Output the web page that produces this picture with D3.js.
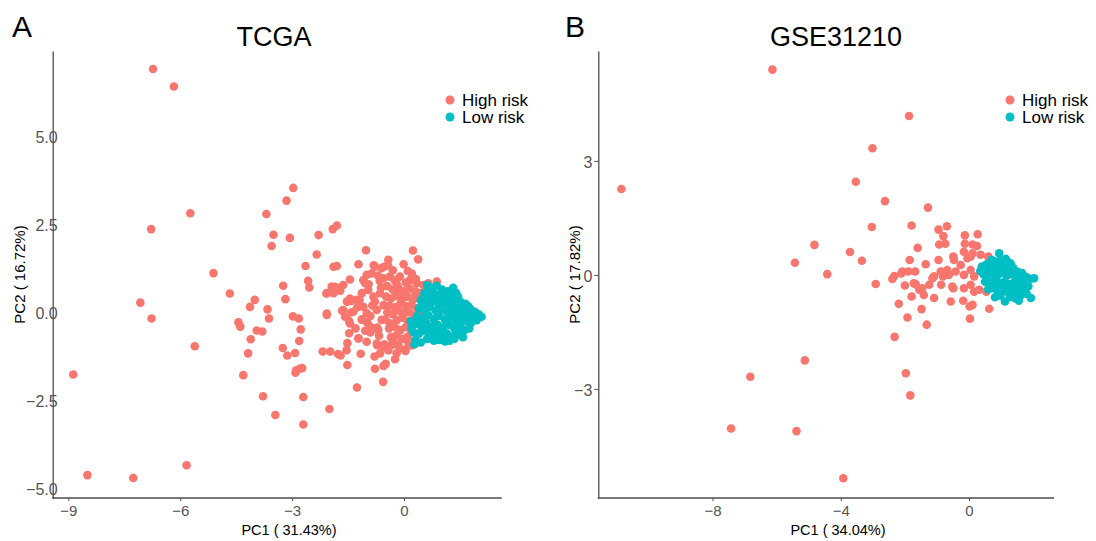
<!DOCTYPE html>
<html>
<head>
<meta charset="utf-8">
<script src="https://cdn.jsdelivr.net/npm/d3@7"></script>
<style>
  body { margin: 0; background: #fff; }
  svg text { font-family: "Liberation Sans", Arial, sans-serif; }
</style>
</head>
<body>
<svg id="chart" width="1096" height="541"></svg>
<script>
// ---------------- DATA ----------------
const groups = ["High risk", "Low risk"];
const groupColors = ["#F8766D", "#00BFC4"];

const panelLetters = ["A", "B"];
const panelTitles = ["TCGA", "GSE31210"];
const xAxisTitles = ["PC1 ( 31.43%)", "PC1 ( 34.04%)"];
const yAxisTitles = ["PC2 ( 16.72%)", "PC2 ( 17.82%)"];

const tcgaXTicks = [-9, -6, -3, 0];
const tcgaYTicks = [-5, -2.5, 0, 2.5, 5];
const gseXTicks = [-8, -4, 0];
const gseYTicks = [-3, 0, 3];

// TCGA, High risk (PC1, PC2)
const tcgaHigh = [
[-6.73,6.92],[-6.17,6.42],[-5.73,2.82],[-6.78,2.37],[-2.97,3.54],[-3.15,3.18],[-3.69,2.80],[-3.50,2.21],[-3.55,1.89],[-3.06,2.12],
[-2.29,2.20],[-1.91,2.37],[-1.80,2.47],[-2.34,1.65],[-1.02,1.77],[0.24,1.76],[0.38,1.51],[-0.42,1.50],[-1.22,1.37],[-0.81,1.34],
[-0.01,1.37],[-2.64,1.32],[-1.89,1.30],[-1.80,1.32],[-0.53,1.30],[-0.43,1.34],
[-5.11,1.12],[-4.67,0.54],[-7.07,0.28],[-6.77,-0.17],[-5.61,-0.96],[-8.87,-1.76],[-8.49,-4.62],[-7.26,-4.70],[-5.83,-4.34],
[-4.00,0.36],[-4.13,0.16],[-3.66,0.09],[-3.62,-0.17],[-4.44,-0.28],[-4.39,-0.40],[-3.95,-0.51],[-3.80,-0.54],[-4.11,-0.76],[-4.18,-1.16],
[-4.31,-1.78],[-3.78,-2.38],[-3.45,-2.91],[-2.70,-2.40],[-2.70,-3.18],[-2.00,-2.74],
[-3.24,0.76],[-3.18,0.38],[-2.98,-0.11],[-2.82,-0.17],[-2.77,-0.48],[-2.81,-0.81],[-3.25,-1.01],[-3.13,-1.22],[-2.92,-1.15],[-2.89,-1.64],
[-2.80,-1.60],[-2.73,-1.58],[-2.91,-1.71],
[-2.57,0.90],[-2.54,0.71],[-2.08,0.54],[-1.94,0.74],[-1.75,0.69],[-1.63,0.78],[-2.07,-0.03],[-2.18,-1.11],[-1.98,-1.11],[-1.77,-1.18],
[-1.70,-1.22],[-1.52,-1.49],[-1.26,-2.13],[-0.56,-1.97],[-0.78,-1.60],[-0.55,-1.52],[-0.49,-1.46],[-0.24,-1.33],[-1.16,-1.17],[-0.79,-1.25],
[-1.53,0.31],[-1.42,0.33],[-1.19,0.36],[-1.66,0.05],[-1.42,0.00],[-1.47,-0.24],[-1.47,-0.59],[-1.52,-0.87],[-1.22,-0.74],[-1.13,-0.19],
[-0.99,-0.28],[-1.04,-0.52],[-0.90,-0.57],[-0.72,-0.43],[-0.67,-0.66],[-0.72,-0.93],[-0.53,-0.90],[-0.39,-0.95],[-0.15,-0.93],[0.04,-1.09],[0.23,-0.93],
[-0.78,1.30],[-0.60,1.26],[0.21,1.11],[-1.00,1.07],[-0.87,1.11],[-1.45,0.94],[-1.85,0.73],[-1.09,0.92],[-1.04,0.83],[-0.55,0.97],
[-0.38,1.02],[-0.20,0.83],[-0.11,1.02],[0.16,0.92],[0.34,0.83],[0.52,0.78],[0.65,0.83],[0.88,0.88],
[-2.07,0.55],[-1.89,0.55],[-1.71,0.62],[-1.45,0.40],[-1.27,0.36],[-1.13,0.55],[-0.96,0.64],[-0.82,0.45],[-0.64,0.55],[-1.63,0.07],
[-1.58,-0.12],[-1.36,0.02],[-1.09,0.16],[-1.00,-0.02],[-0.78,0.31],[-0.73,0.07],[-0.55,0.21],[-2.07,-0.07],
[-1.45,-0.31],[-1.13,-0.21],[-0.91,-0.40],[-0.69,-0.50],[-0.60,-0.21],[-0.38,-0.31],[-1.22,-0.73],[-1.00,-0.83],[-0.73,-0.88],[-0.55,-0.97],
[-0.33,-0.92],[-0.11,-1.02],[0.07,-0.78],[-1.54,-1.07],[-0.64,-1.16],[-0.42,-1.07],[-0.20,-1.16],
[-0.45,0.75],[-0.30,0.65],[-0.15,0.70],[0.00,0.60],[0.15,0.68],[0.30,0.60],[0.45,0.55],[0.58,0.62],
[-0.48,0.45],[-0.35,0.40],[-0.20,0.48],[-0.05,0.38],[0.10,0.45],[0.25,0.38],[0.40,0.42],[0.55,0.35],
[-0.40,0.20],[-0.25,0.15],[-0.10,0.25],[0.05,0.18],[0.20,0.22],[0.35,0.12],[0.50,0.20],
[-0.45,0.00],[-0.30,-0.05],[-0.15,0.05],[0.00,-0.02],[0.15,0.00],[0.30,-0.08],[0.45,0.02],
[-0.50,-0.20],[-0.20,-0.22],[-0.05,-0.15],[0.10,-0.25],[0.25,-0.20],
[-0.40,-0.45],[-0.25,-0.40],[-0.10,-0.50],[0.05,-0.42],[0.20,-0.55],
[-0.35,-0.70],[-0.20,-0.65],[-0.05,-0.75],[0.10,-0.68],
[-0.85,0.20],[-0.90,-0.10],[-1.25,0.15],[-1.30,-0.45],[-0.95,0.80],[-0.65,0.90],[-0.25,0.92],[0.05,0.85],
[-0.30,1.20],[0.10,1.18],[-0.70,1.05],[-0.15,0.45],[0.32,0.95],[-0.62,0.70],[-0.28,-0.85],[0.12,-0.95]
];

// TCGA, Low risk
const tcgaLow = [
[0.62,0.78],[0.75,0.70],[0.88,0.76],[1.02,0.65],[1.18,0.60],[1.32,0.70],[1.40,0.55],[0.55,0.55],[0.70,0.50],[0.85,0.52],
[0.98,0.45],[1.12,0.42],[1.25,0.48],[1.38,0.38],[1.52,0.30],[1.65,0.25],[0.45,0.35],[0.60,0.30],[0.78,0.32],[0.92,0.25],
[1.05,0.28],[1.20,0.22],[1.33,0.18],[1.48,0.12],[1.62,0.08],[1.78,0.10],[1.90,0.02],[0.40,0.12],[0.55,0.08],[0.70,0.15],
[0.85,0.05],[1.00,0.10],[1.15,0.02],[1.28,0.05],[1.42,-0.02],[1.55,-0.05],[1.70,-0.08],[1.85,-0.12],[2.00,-0.05],[2.08,-0.12],
[0.35,-0.10],[0.50,-0.15],[0.65,-0.08],[0.80,-0.18],[0.95,-0.10],[1.10,-0.20],[1.25,-0.12],[1.38,-0.22],[1.52,-0.18],[1.65,-0.25],
[1.80,-0.30],[1.95,-0.22],[0.30,-0.32],[0.45,-0.38],[0.60,-0.30],[0.75,-0.40],[0.90,-0.35],[1.05,-0.42],[1.20,-0.35],[1.35,-0.45],
[1.50,-0.40],[1.62,-0.50],[1.75,-0.45],[0.25,-0.55],[0.40,-0.60],[0.55,-0.52],[0.70,-0.62],[0.85,-0.58],[1.00,-0.65],[1.15,-0.60],
[1.30,-0.68],[1.45,-0.62],[1.58,-0.70],[0.30,-0.78],[0.45,-0.85],[0.62,-0.75],[0.80,-0.80],[0.95,-0.78],[1.10,-0.82],[1.22,-0.80],
[0.28,-0.90],[1.35,-0.75],[0.20,-0.45],[0.18,-0.25],[0.72,0.65],[1.08,0.55],[1.45,0.45],[1.72,0.18],[0.50,0.20],[0.88,0.38],
[1.58,0.20],[1.82,-0.02],[0.42,-0.25],[1.00,-0.50],[1.40,-0.55],[0.66,-0.45],[0.52,0.42],[1.28,0.32]
];

// GSE31210, High risk
const gseHigh = [
[-6.13,5.40],[-1.87,4.18],[-3.01,3.33],[-10.84,2.26],[-3.53,2.45],[-2.62,1.94],[-1.28,1.77],[-3.03,1.26],[-1.79,1.30],[-0.95,1.19],
[-0.69,1.28],[-0.80,1.02],[-0.93,0.80],[-0.74,0.82],[-0.13,1.04],[0.27,1.07],[-0.13,0.82],[0.11,0.80],[0.25,0.76],[-4.82,0.79],
[-3.71,0.60],[-5.43,0.32],[-3.34,0.37],[-1.60,0.71],[-1.85,0.39],[-1.35,0.28],[-0.95,0.39],[-0.49,0.48],[-0.16,0.61],[-0.05,0.44],
[0.11,0.57],[0.36,0.53],[0.60,0.48],
[-4.42,0.02],[-2.91,-0.24],[-2.33,-0.03],[-2.11,0.04],[-1.89,0.09],[-1.68,0.09],[-2.00,-0.28],[-1.66,-0.25],[-1.79,-0.57],[-1.55,-0.39],
[-1.41,-0.53],[-2.19,-0.76],[-1.48,-0.90],[-1.92,-1.12],[-1.32,-1.31],[-2.32,-1.63],[-0.57,-0.70],[-0.18,-0.68],[0.02,-0.83],[0.03,-1.15],
[0.63,-0.89],
[-1.24,-0.26],[-1.14,-0.09],[-0.87,-0.26],[-0.81,-0.04],[-0.49,-0.35],[-0.16,-0.35],[0.05,-0.26],[0.16,-0.44],[0.32,-0.39],[0.54,-0.44],
[0.70,-0.31],
[-5.12,-2.25],[-6.82,-2.68],[-1.97,-2.59],[-1.83,-3.17],[-7.42,-4.04],[-5.38,-4.11],[-3.92,-5.35],
[-0.47,0.39],[-0.26,0.26],[0.63,0.39],[0.05,0.48],[-2.39,-0.11],[-2.08,0.09],[-1.09,-0.04],[-0.88,0.09],[-0.68,0.13],[-0.63,0.00],
[-0.42,0.09],[-0.16,0.00],[0.05,0.13],[0.16,-0.04],[0.37,0.09],[0.52,0.00],[-1.72,-0.22],[-1.46,-0.35],[-0.52,-0.31],[-1.09,-0.61],
[0.11,-0.79]
];

// GSE31210, Low risk
const gseLow = [
[0.94,0.57],[0.70,0.40],[0.85,0.35],[1.00,0.38],[1.15,0.42],[1.30,0.30],[0.55,0.28],[0.40,0.22],[0.62,0.15],[0.78,0.20],
[0.92,0.15],[1.08,0.22],[1.22,0.15],[1.38,0.18],[1.52,0.08],[1.65,0.05],[0.45,0.02],[0.58,-0.02],[0.72,0.05],[0.88,-0.02],
[1.02,0.05],[1.18,-0.02],[1.32,0.02],[1.48,-0.05],[1.62,-0.08],[1.78,-0.05],[1.92,-0.10],[2.03,-0.09],[0.50,-0.18],[0.65,-0.20],
[0.80,-0.15],[0.95,-0.22],[1.10,-0.18],[1.25,-0.25],[1.40,-0.20],[1.55,-0.28],[1.70,-0.22],[1.85,-0.30],[0.60,-0.38],[0.75,-0.35],
[0.90,-0.42],[1.05,-0.38],[1.20,-0.45],[1.35,-0.40],[1.50,-0.48],[1.65,-0.42],[1.80,-0.50],[1.93,-0.61],[0.81,-0.59],[0.98,-0.55],
[1.12,-0.70],[1.28,-0.58],[1.45,-0.62],[1.60,-0.55],[0.35,0.10],[1.75,-0.38],[1.55,-0.68],[0.92,0.28],[1.25,0.32],[1.42,0.00]
];

// ---------------- DRAW ----------------
const svg = d3.select("#chart");
const fontFam = '"Liberation Sans", Arial, sans-serif';

const panels = [
  { high: tcgaHigh, low: tcgaLow, xTicks: tcgaXTicks, yTicks: tcgaYTicks,
    xDom: [-9.42, 2.62], yDom: [-5.27, 7.43], left: 52.7, right: 501.7,
    yFmt: d3.format(".1f"), yTickSize: 0, yPad: -5,
    letterX: 12, titleX: 274, xTitleX: 289, yTitleX: 25, legendX: 450 },
  { high: gseHigh, low: gseLow, xTicks: gseXTicks, yTicks: gseYTicks,
    xDom: [-11.56, 2.65], yDom: [-5.87, 5.89], left: 598.3, right: 1054,
    yFmt: d3.format("d"), yTickSize: 4, yPad: 2,
    letterX: 565, titleX: 836, xTitleX: 838, yTitleX: 580, legendX: 1010 }
];
const plotTop = 51, plotBottom = 498;

panels.forEach((p, i) => {
  const x = d3.scaleLinear().domain(p.xDom).range([p.left, p.right]);
  const y = d3.scaleLinear().domain(p.yDom).range([plotBottom, plotTop]);
  const g = svg.append("g");

  // points
  const pts = [].concat(
    p.high.map(d => ({ x: d[0], y: d[1], g: 0 })),
    p.low.map(d => ({ x: d[0], y: d[1], g: 1 }))
  );
  g.append("g").selectAll("circle").data(pts).join("circle")
    .attr("cx", d => x(d.x)).attr("cy", d => y(d.y)).attr("r", 4.3)
    .attr("fill", d => groupColors[d.g]);

  // axes
  const xa = g.append("g").attr("transform", `translate(0,${plotBottom})`)
    .call(d3.axisBottom(x).tickValues(p.xTicks).tickSize(3).tickPadding(4).tickSizeOuter(0)
      .tickFormat(d3.format("d")));
  const ya = g.append("g").attr("transform", `translate(${p.left},0)`)
    .call(d3.axisLeft(y).tickValues(p.yTicks).tickSize(p.yTickSize).tickPadding(p.yPad).tickSizeOuter(0)
      .tickFormat(p.yFmt));
  [xa, ya].forEach(a => {
    a.select(".domain").attr("stroke", "#4d4d4d").attr("stroke-width", 1.3);
    a.selectAll(".tick line").attr("stroke", "#4d4d4d").attr("stroke-width", 1);
    a.selectAll(".tick text").attr("fill", "#555555").style("font-family", fontFam);
  });
  xa.selectAll(".tick text").style("font-size", "15px");
  ya.selectAll(".tick text").style("font-size", "16px").attr("dy", "0.4em");
  xa.select(".domain").attr("d", `M${p.left - 0.6},0H${p.right}`);

  // panel letter
  g.append("text").attr("x", p.letterX).attr("y", 37).text(panelLetters[i])
    .style("font-size", "30px").style("font-family", fontFam).attr("fill", "#000");
  // title
  g.append("text").attr("x", p.titleX).attr("y", 46).attr("text-anchor", "middle")
    .text(panelTitles[i]).style("font-size", "27px").style("font-family", fontFam).attr("fill", "#000");
  // axis titles
  g.append("text").attr("x", p.xTitleX).attr("y", 535).attr("text-anchor", "middle")
    .text(xAxisTitles[i]).style("font-size", "14.5px").style("font-family", fontFam).attr("fill", "#000");
  g.append("text").attr("transform", `translate(${p.yTitleX},${(plotTop + plotBottom) / 2}) rotate(-90)`)
    .attr("text-anchor", "middle").text(yAxisTitles[i])
    .style("font-size", "15px").style("font-family", fontFam).attr("fill", "#000");

  // legend
  groups.forEach((name, k) => {
    const ly = 100 + k * 17;
    g.append("circle").attr("cx", p.legendX).attr("cy", ly).attr("r", 4.5).attr("fill", groupColors[k]);
    g.append("text").attr("x", p.legendX + 12).attr("y", ly + 6).text(name)
      .style("font-size", "17px").style("font-family", fontFam).attr("fill", "#000");
  });
});
</script>
</body>
</html>
